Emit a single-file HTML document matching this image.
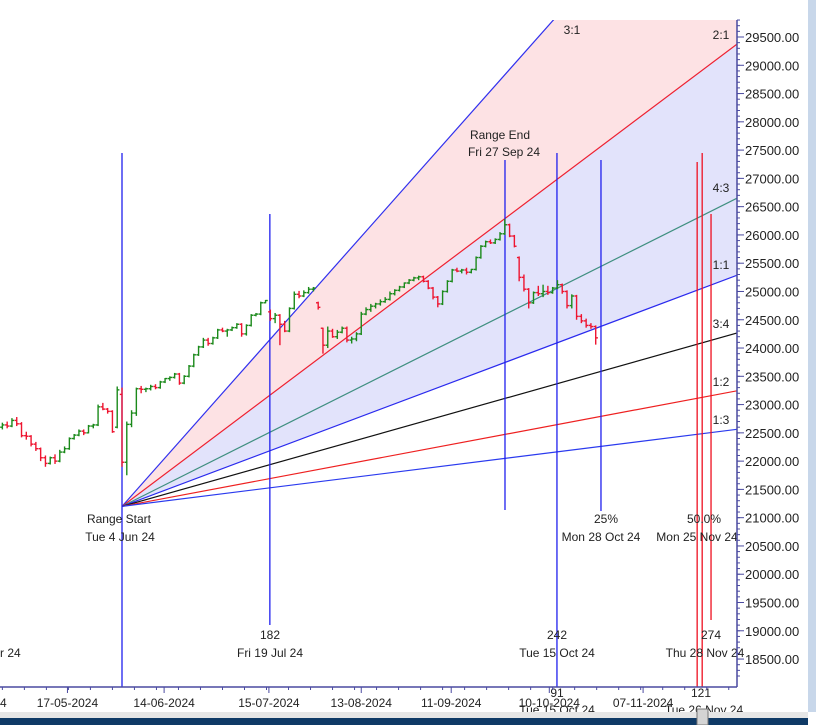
<!DOCTYPE html>
<html><head><meta charset="utf-8">
<style>
html,body{margin:0;padding:0;background:#fff;}
svg{display:block;font-family:"Liberation Sans",Arial,sans-serif;}
</style></head>
<body>
<svg id="chart" width="816" height="725" viewBox="0 0 816 725">
  <rect x="0" y="0" width="816" height="725" fill="#fff"/>
  <rect x="808" y="0" width="8" height="712" fill="#c8d7ea"/>
  <defs><clipPath id="plotclip"><rect x="0" y="20" width="737" height="667"/></clipPath></defs>
  <g id="fills" clip-path="url(#plotclip)"></g>
  <g id="fanlines" clip-path="url(#plotclip)"></g>
  <g id="vlines"></g>
  <g id="bars" clip-path="url(#plotclip)"></g>
  <g id="labels"></g>
  <g id="yaxis"></g>
  <g id="xaxis"></g>
  <rect x="0" y="712" width="808" height="6" fill="#e6e6e6"/>
  <rect x="0" y="718" width="808" height="7" fill="#0f3a66"/>
  <rect x="697" y="709" width="11" height="16" fill="#d4d4d4" stroke="#777" stroke-width="1"/>
</svg>
<script>
// ---- data ----
const barOffsets = [-25,-24,-23,-22,-21,-20,-19,-18,-17,-16,-15,-14,-13,-12,-11,-10,-9,-8,-7,-6,-5,-4,-3,-2,-1,0,1,2,3,4,5,6,7,8,9,10,11,12,13,14,15,16,17,18,19,20,21,22,23,24,25,26,27,28,29,30,31,32,33,34,35,36,37,38,39,40,41,42,43,44,45,46,47,48,49,50,51,52,53,54,55,56,57,58,59,60,61,62,63,64,65,66,67,68,69,70,71,72,73,74,75,76,77,78,79,80,81,82,83,84,85,86,87,88,89,90,91,92,93,94,95,96,97,98,99];
const opens = [22600,22640,22620,22720,22660,22450,22440,22300,22220,22060,21960,22060,22000,22160,22220,22400,22460,22530,22500,22620,22640,22960,22920,22880,22600,23180,21980,22650,22850,23280,23270,23280,23320,23300,23400,23460,23480,23540,23380,23500,23680,23880,24020,24140,24080,24180,24320,24300,24320,24360,24420,24250,24400,24580,24600,24800,24640,24520,24580,24420,24300,24700,24950,24920,24980,25040,24800,24350,24050,24300,24200,24280,24350,24140,24160,24250,24600,24680,24740,24780,24820,24860,24960,25020,25080,25150,25200,25240,25260,25180,25060,24900,24780,25000,25180,25380,25360,25380,25340,25390,25600,25800,25880,25860,25920,26020,26180,25980,25600,25250,25040,24800,24980,24960,25000,24980,25060,25120,25000,24750,24920,24560,24480,24400,24380];
const highs = [22680,22700,22760,22780,22690,22520,22460,22340,22240,22100,22080,22120,22200,22260,22420,22480,22560,22560,22640,22660,23000,23030,22940,22900,23320,23300,22700,22900,23300,23330,23300,23350,23360,23420,23470,23500,23560,23560,23520,23700,23900,24040,24180,24180,24200,24340,24360,24340,24380,24440,24440,24420,24600,24620,24820,24850,24680,24620,24600,24480,24720,25000,25010,25020,25080,25080,24820,24360,24380,24340,24320,24380,24380,24200,24280,24640,24720,24780,24800,24860,24900,25000,25040,25100,25160,25220,25260,25280,25280,25200,25080,24920,25020,25200,25400,25420,25400,25420,25400,25620,25820,25900,25920,25940,26050,26280,26200,26000,25620,25300,25060,25000,25100,25120,25100,25080,25200,25140,25020,24950,24940,24600,24520,24440,24400];
const lows = [22560,22580,22600,22620,22420,22380,22260,22180,22000,21900,21940,21950,21980,22140,22200,22380,22440,22460,22490,22580,22620,22900,22840,22500,22580,21900,21750,22600,22800,23200,23220,23250,23270,23280,23380,23420,23460,23350,23360,23480,23660,23860,24000,24040,24060,24160,24280,24200,24300,24340,24200,24220,24380,24560,24580,24790,24480,24440,24050,24280,24280,24680,24880,24900,24960,25000,24680,23900,24000,24180,24160,24260,24100,24080,24120,24230,24580,24640,24700,24750,24800,24840,24930,25000,25060,25130,25180,25200,25160,25040,24860,24720,24760,24980,25160,25340,25320,25300,25320,25370,25580,25780,25840,25840,25900,26000,25960,25780,25180,25000,24700,24780,24920,24900,24940,24960,25040,24960,24700,24700,24500,24440,24360,24340,24060];
const closes = [22640,22620,22720,22660,22450,22440,22300,22220,22060,21960,22060,22000,22160,22220,22400,22460,22530,22500,22620,22640,22960,22920,22880,22520,23260,21980,22650,22850,23280,23270,23280,23320,23300,23400,23460,23480,23540,23380,23500,23680,23880,24020,24140,24080,24180,24320,24300,24320,24360,24420,24250,24400,24580,24600,24800,24840,24520,24580,24420,24300,24700,24950,24920,24980,25040,25060,24720,24050,24300,24200,24280,24350,24140,24160,24250,24600,24680,24740,24780,24820,24860,24960,25020,25080,25150,25200,25240,25260,25180,25060,24900,24780,25000,25180,25380,25360,25380,25340,25390,25600,25800,25880,25860,25920,26020,26180,25980,25800,25250,25040,24800,24980,24960,25000,24980,25060,25120,25000,24750,24920,24560,24480,24400,24380,24180];
// Gann fan: origin price and ratios with slope in price-per-bar units
const fanOriginPrice = 21200;
const fanNames = ["3:1","2:1","4:3","1:1","3:4","1:2","1:3"];
const fanRatios = [3,2,4/3,1,3/4,1/2,1/3];
const fanUnitPricePerBar = 31.8; // 1:1 price change per bar
const fanColors = ["#3030ee","#ee2030","#3f8f80","#2a2aee","#111111","#ee2020","#2a3aee"];
const yTicks = [18500,19000,19500,20000,20500,21000,21500,22000,22500,23000,23500,24000,24500,25000,25500,26000,26500,27000,27500,28000,28500,29000,29500];
const xDateLabels = ["17-05-2024","14-06-2024","15-07-2024","13-08-2024","11-09-2024","10-10-2024","07-11-2024"];
const xDateOffsets = [-11.4,8.8,30.7,50,68.8,89.3,108.9];

// ---- scales ----
const X0=122, PX=4.785;
function x(i){return X0+i*PX;}
function y(v){return 37+(29500-v)*0.05655;}
const NS="http://www.w3.org/2000/svg";
function el(tag,attrs,parent){const e=document.createElementNS(NS,tag);for(const k in attrs)e.setAttribute(k,attrs[k]);parent.appendChild(e);return e;}

// fan
const fills=document.getElementById('fills'), fl=document.getElementById('fanlines');
const ox=x(0), oy=y(fanOriginPrice), endI=(737-X0)/PX+2;
function fanY(r,i){return y(fanOriginPrice+r*fanUnitPricePerBar*i);}
let p1=el('polygon',{points:`${ox},${oy} ${x(endI)},${fanY(fanRatios[0],endI)} ${x(endI)},${fanY(fanRatios[1],endI)}`,fill:'#fde2e4'},fills);


let p2=el('polygon',{points:`${ox},${oy} ${x(endI)},${fanY(fanRatios[1],endI)} ${x(endI)},${fanY(fanRatios[3],endI)}`,fill:'#e2e3fb'},fills);


fanRatios.forEach((r,k)=>{
  const l=el('line',{x1:ox,y1:oy,x2:x(endI),y2:fanY(r,endI),stroke:fanColors[k],'stroke-width':1.2},fl);
  
  
});

// vertical lines
const vl=document.getElementById('vlines');
const vdefs=[[0,153,687,'#2020ee','range-start-line'],[30.9,214,625,'#2020ee','cycle-182-line'],[80.04,160,510,'#2020ee','range-end-line'],[90.9,153,687,'#2020ee','cycle-242-line'],[100.1,160,511,'#2020ee','pct-25-line'],[120.2,162,687,'#ee1020','pct-50-line'],[121.25,153,687,'#ee1020','cycle-121-line'],[123.1,214,620,'#ee1020','cycle-274-line']];
vdefs.forEach(d=>{
  const l=el('line',{x1:x(d[0]),y1:d[1],x2:x(d[0]),y2:d[2],stroke:d[3],'stroke-width':1.3},vl);
  
  
});

// bars
const bg=document.getElementById('bars');
barOffsets.forEach((i,k)=>{
  const g=el('g',{},bg);
  
  
  const c=closes[k]>=opens[k]?'#1b8a1b':'#ee1530', xx=x(i);
  el('line',{x1:xx,y1:y(highs[k]),x2:xx,y2:y(lows[k]),stroke:c,'stroke-width':1.4},g);
  el('line',{x1:xx-2.2,y1:y(opens[k]),x2:xx,y2:y(opens[k]),stroke:c,'stroke-width':1.4},g);
  el('line',{x1:xx,y1:y(closes[k]),x2:xx+2.2,y2:y(closes[k]),stroke:c,'stroke-width':1.4},g);
});

// labels
const lb=document.getElementById('labels');
const texts=[["3:1",572,34,'middle','label-3-1'],["2:1",721,39,'middle','label-2-1'],["4:3",721,192,'middle','label-4-3'],["1:1",721,269,'middle','label-1-1'],["3:4",721,328,'middle','label-3-4'],["1:2",721,386,'middle','label-1-2'],["1:3",721,424,'middle','label-1-3'],
["Range End",500,139,'middle','range-end-label'],["Fri 27 Sep 24",504,156,'middle','range-end-date'],
["Range Start",119,523,'middle','range-start-label'],["Tue 4 Jun 24",120,541,'middle','range-start-date'],
["25%",606,523,'middle','pct-25-label'],["Mon 28 Oct 24",601,541,'middle','pct-25-date'],
["50.0%",704,523,'middle','pct-50-label'],["Mon 25 Nov 24",697,541,'middle','pct-50-date'],
["182",270,639,'middle','cycle-182-label'],["Fri 19 Jul 24",270,657,'middle','cycle-182-date'],
["242",557,639,'middle','cycle-242-label'],["Tue 15 Oct 24",557,657,'middle','cycle-242-date'],
["274",711,639,'middle','cycle-274-label'],["Thu 28 Nov 24",705,657,'middle','cycle-274-date'],
["r 24",0,657,'start','left-cut-date'],
["91",557,697,'middle','bar-count-91'],["Tue 15 Oct 24",557,714,'middle','bar-count-91-date'],
["121",701,697,'middle','bar-count-121'],["Tue 26 Nov 24",704,714,'middle','bar-count-121-date']];
texts.forEach(t=>{
  const e=el('text',{x:t[1],y:t[2],'text-anchor':t[3],'font-size':12,fill:'#222'},lb);
  e.textContent=t[0];
  
  
});

// y axis
const ya=document.getElementById('yaxis');
el('line',{x1:737,y1:20,x2:737,y2:687,stroke:'#4a4aa0','stroke-width':1.5},ya);
for(let v=18200;v<=29800;v+=100){const yy=y(v);if(yy<20||yy>687)continue;el('line',{x1:737,y1:yy,x2:740,y2:yy,stroke:'#4a4aa0','stroke-width':1},ya);}
yTicks.forEach(v=>{
  el('line',{x1:737,y1:y(v),x2:744,y2:y(v),stroke:'#4a4aa0','stroke-width':1},ya);
  const t=el('text',{x:745,y:y(v)+5,'font-size':13,fill:'#222'},ya);
  t.textContent=v.toFixed(2);
  
  
});

// x axis
const xa=document.getElementById('xaxis');
el('line',{x1:0,y1:687,x2:737,y2:687,stroke:'#4a4aa0','stroke-width':1.5},xa);
for(let i=-25;i<=128;i+=4.6){el('line',{x1:x(i),y1:687,x2:x(i),y2:690,stroke:'#4a4aa0','stroke-width':1},xa);}
xDateLabels.forEach((s,k)=>{
  el('line',{x1:x(xDateOffsets[k]),y1:687,x2:x(xDateOffsets[k]),y2:693,stroke:'#4a4aa0','stroke-width':1},xa);
  const t=el('text',{x:x(xDateOffsets[k]),y:707,'text-anchor':'middle','font-size':12,fill:'#222'},xa);
  t.textContent=s;
  
  
});
const t0=el('text',{x:0,y:707,'font-size':12,fill:'#222'},xa);
t0.textContent="4";


</script>
</body></html>
